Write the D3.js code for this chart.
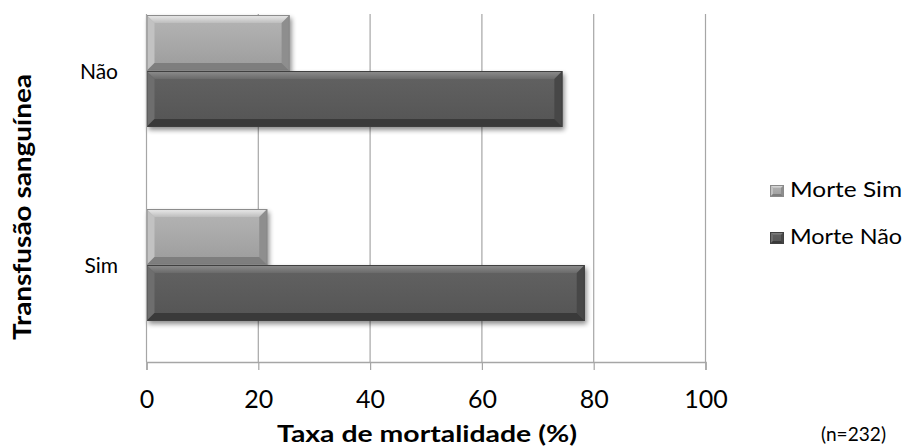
<!DOCTYPE html>
<html>
<head>
<meta charset="utf-8">
<script src="https://cdn.jsdelivr.net/npm/d3@7"></script>
<style>
  html, body { margin: 0; padding: 0; background: #fff; }
  svg { display: block; }
  text { font-family: Lato, "Open Sans", "DejaVu Sans", sans-serif; fill: #000; }
</style>
</head>
<body>
<svg id="chart" width="911" height="448"></svg>
<script>
// Categories (top to bottom) and series values, in %
const categories = ["Não", "Sim"];
const seriesNames = ["Morte Sim", "Morte Não"];
const morteSim = [25.6, 21.6];
const morteNao = [74.4, 78.4];
const xTicks = [0, 20, 40, 60, 80, 100];

const svg = d3.select("#chart");

// plot area
const left = 146.5, right = 705.5, bottom = 362, visibleTop = 14;
const x = d3.scaleLinear().domain([0, 100]).range([left, right]);
const y = d3.scaleBand().domain(categories).range([-26, bottom])
  .paddingInner(0.423).paddingOuter(0.2115);
const ySeries = d3.scaleBand().domain(seriesNames).range([0, y.bandwidth()]);

const palette = {
  "Morte Sim": { base: "#a6a6a6", top: "#ececec", topLow: "#bdbdbd", left: "#c2c2c2", right: "#8e8e8e", bot: "#7e7e7e", edge: "#8a8a8a" },
  "Morte Não": { base: "#5a5a5a", top: "#8e8e8e", topLow: "#6a6a6a", left: "#6e6e6e", right: "#474747", bot: "#3a3a3a", edge: "#404040" }
};

const defs = svg.append("defs");
const shadow = defs.append("filter").attr("id", "shadow")
  .attr("x", "-10%").attr("y", "-20%").attr("width", "130%").attr("height", "160%");
shadow.append("feGaussianBlur").attr("stdDeviation", 2.5);

seriesNames.forEach((s, i) => {
  const p = palette[s];
  const g = defs.append("linearGradient").attr("id", "body" + i)
    .attr("x1", 0).attr("y1", 0).attr("x2", 0).attr("y2", 1);
  g.append("stop").attr("offset", "0%").attr("stop-color", d3.color(p.base).brighter(0.25));
  g.append("stop").attr("offset", "60%").attr("stop-color", p.base);
  g.append("stop").attr("offset", "100%").attr("stop-color", d3.color(p.base).darker(0.2));
  const t = defs.append("linearGradient").attr("id", "top" + i)
    .attr("x1", 0).attr("y1", 0).attr("x2", 0).attr("y2", 1);
  t.append("stop").attr("offset", "0%").attr("stop-color", p.top);
  t.append("stop").attr("offset", "100%").attr("stop-color", p.topLow);
});

// gridlines
svg.append("g").selectAll("line").data(xTicks.slice(1)).join("line")
  .attr("x1", d => x(d)).attr("x2", d => x(d))
  .attr("y1", visibleTop).attr("y2", bottom)
  .attr("stroke", "#a6a6a6").attr("stroke-width", 1.2);

// bevelled bar drawing
function bevelBar(g, x0, y0, w, h, i, bv, withShadow) {
  const p = palette[seriesNames[i]];
  const b = Math.min(bv, w / 2, h / 2);
  if (withShadow) {
    g.append("rect").attr("x", x0 + 2).attr("y", y0 + 3).attr("width", w).attr("height", h)
      .attr("fill", "#000").attr("opacity", 0.45).attr("filter", "url(#shadow)");
  }
  g.append("rect").attr("x", x0).attr("y", y0).attr("width", w).attr("height", h)
    .attr("fill", `url(#body${i})`);
  const x1 = x0 + w, y1 = y0 + h;
  g.append("polygon").attr("points", [[x0, y0], [x1, y0], [x1 - b, y0 + b], [x0 + b, y0 + b]].join(" "))
    .attr("fill", `url(#top${i})`);
  g.append("polygon").attr("points", [[x0, y0], [x0 + b, y0 + b], [x0 + b, y1 - b], [x0, y1]].join(" "))
    .attr("fill", p.left);
  g.append("polygon").attr("points", [[x1, y0], [x1, y1], [x1 - b, y1 - b], [x1 - b, y0 + b]].join(" "))
    .attr("fill", p.right);
  g.append("polygon").attr("points", [[x0, y1], [x0 + b, y1 - b], [x1 - b, y1 - b], [x1, y1]].join(" "))
    .attr("fill", p.bot);
  g.append("rect").attr("x", x0 + 0.5).attr("y", y0 + 0.5).attr("width", w - 1).attr("height", h - 1)
    .attr("fill", "none").attr("stroke", p.edge).attr("stroke-width", 1);
}

const barsG = svg.append("g");
const seriesData = [morteSim, morteNao];
categories.forEach((c, ci) => {
  seriesNames.forEach((s, si) => {
    const v = seriesData[si][ci];
    bevelBar(barsG, x(0), y(c) + ySeries(s), x(v) - x(0), ySeries.bandwidth(), si, 8, true);
  });
});

// value axis
const axisG = svg.append("g").attr("transform", `translate(0,${bottom})`);
const xAxis = d3.axisBottom(x).tickValues(xTicks).tickSize(8).tickPadding(0).tickFormat(d3.format("d"));
axisG.call(xAxis);
axisG.select(".domain").attr("stroke", "#a6a6a6").attr("stroke-width", 1.5);
axisG.selectAll(".tick line").attr("stroke", "#a6a6a6").attr("stroke-width", 1.2);
axisG.selectAll(".tick text")
  .attr("y", 46).attr("dy", null)
  .attr("font-size", 25).attr("font-family", "Lato, sans-serif").attr("fill", "#000");

// category axis line
svg.append("line").attr("x1", left).attr("x2", left).attr("y1", visibleTop).attr("y2", bottom)
  .attr("stroke", "#a6a6a6").attr("stroke-width", 1.2);

// category labels
svg.append("g").selectAll("text").data(categories).join("text")
  .attr("x", 118).attr("y", d => y(d) + y.bandwidth() / 2 + 8)
  .attr("text-anchor", "end")
  .attr("font-size", 21).text(d => d);

// axis titles
svg.append("text").attr("x", 427).attr("y", 442).attr("text-anchor", "middle")
  .attr("font-size", 23).attr("font-weight", "bold")
  .attr("textLength", 300).attr("lengthAdjust", "spacingAndGlyphs")
  .text("Taxa de mortalidade  (%)");
svg.append("text").attr("transform", "translate(31,207) rotate(-90)")
  .attr("text-anchor", "middle").attr("font-size", 24).attr("font-weight", "bold")
  .attr("textLength", 266).attr("lengthAdjust", "spacingAndGlyphs")
  .text("Transfusão sanguínea");
svg.append("text").attr("x", 821).attr("y", 441).attr("font-size", 20)
  .attr("textLength", 65).attr("lengthAdjust", "spacingAndGlyphs")
  .text("(n=232)");

// legend
const legend = svg.append("g");
seriesNames.forEach((s, i) => {
  const base = 197 + i * 47;
  bevelBar(legend, 770, base - 12, 14, 12, i, 3, false);
  legend.append("text").attr("x", 790).attr("y", base)
    .attr("font-size", 22)
    .attr("textLength", 112).attr("lengthAdjust", "spacingAndGlyphs")
    .text(s);
});
</script>
</body>
</html>
